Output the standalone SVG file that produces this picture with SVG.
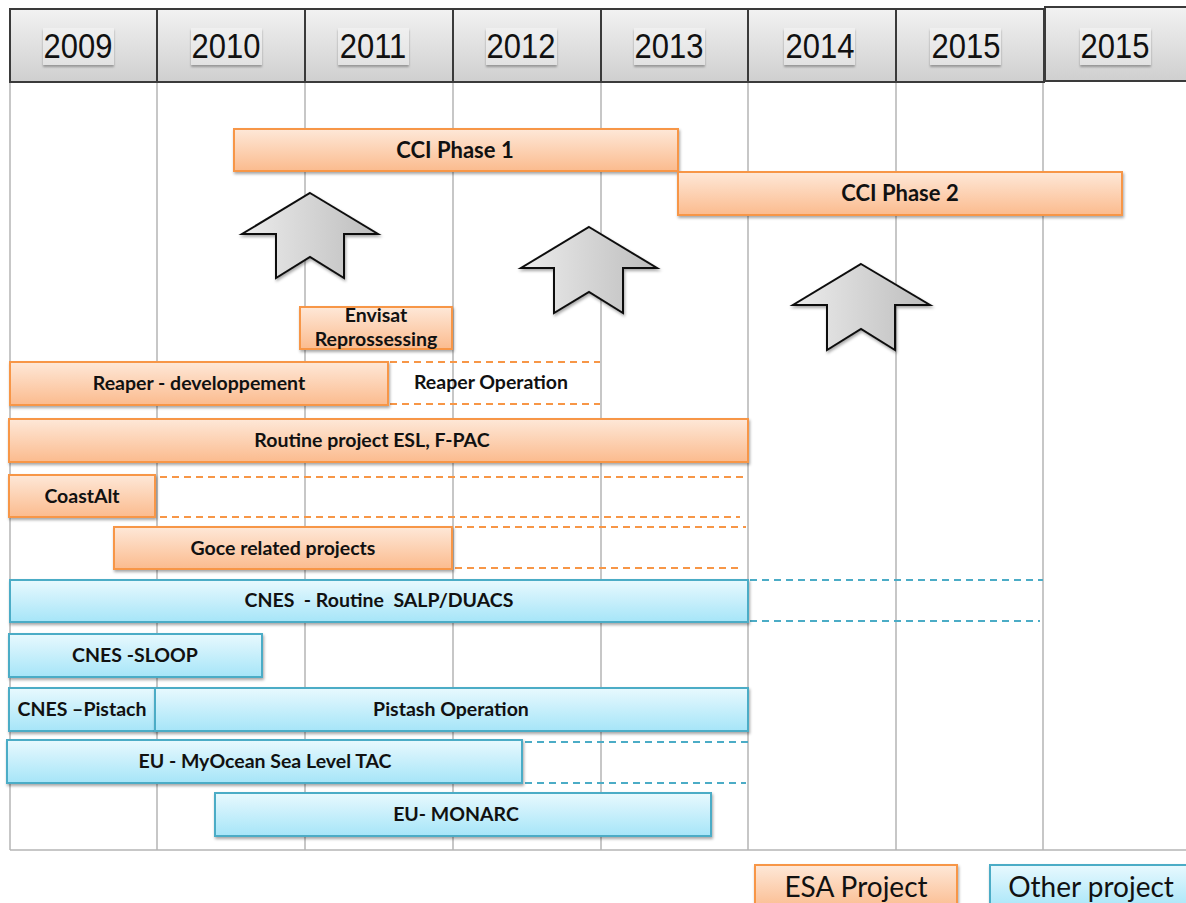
<svg xmlns="http://www.w3.org/2000/svg" width="1186" height="903" viewBox="0 0 1186 903">
<defs>
<linearGradient id="gHead" x1="0" y1="0" x2="0" y2="1"><stop offset="0" stop-color="#f2f2f2"/><stop offset="1" stop-color="#cfcfcf"/></linearGradient>
<linearGradient id="gYear" x1="0" y1="0" x2="0" y2="1"><stop offset="0" stop-color="#f0f0f0"/><stop offset="1" stop-color="#e2e2e2"/></linearGradient>
<linearGradient id="gOr" x1="0" y1="0" x2="0" y2="1"><stop offset="0" stop-color="#fee8d8"/><stop offset="1" stop-color="#fbbb8e"/></linearGradient>
<linearGradient id="gBl" x1="0" y1="0" x2="0" y2="1"><stop offset="0" stop-color="#e8f9fe"/><stop offset="1" stop-color="#a6e5f8"/></linearGradient>
<linearGradient id="gArr" x1="0" y1="0" x2="1" y2="0"><stop offset="0" stop-color="#ececec"/><stop offset="1" stop-color="#bdbdbd"/></linearGradient>
<filter id="sh" x="-5%" y="-20%" width="110%" height="150%"><feDropShadow dx="1" dy="2" stdDeviation="1.5" flood-color="#000" flood-opacity="0.35"/></filter>
<filter id="shs" x="-10%" y="-20%" width="120%" height="150%"><feDropShadow dx="0" dy="2" stdDeviation="1.2" flood-color="#000" flood-opacity="0.3"/></filter>
</defs>
<style>
.head{fill:url(#gHead);stroke:#3a3a3a;stroke-width:2}
.yr{fill:url(#gYear)}
.ytxt{font-family:"Liberation Sans",Arial,sans-serif;font-size:31px;fill:#111;text-anchor:middle}
.grid{stroke:#b4b4b4;stroke-width:1.5;fill:none}
.esa{fill:url(#gOr);stroke:#f79646;stroke-width:2;filter:url(#sh)}
.oth{fill:url(#gBl);stroke:#4bacc6;stroke-width:2;filter:url(#sh)}
.lbl{font-family:Lato,"Liberation Sans",sans-serif;font-weight:bold;font-size:19.5px;fill:#111;text-anchor:middle;white-space:pre}
.big{font-size:22px}
.dO{stroke:#f79646;stroke-width:2;stroke-dasharray:7 5;fill:none}
.dB{stroke:#4bacc6;stroke-width:2;stroke-dasharray:7 5;fill:none}
.arr{fill:url(#gArr);stroke:#111;stroke-width:2;filter:url(#sh)}
.leg{font-family:Lato,"Liberation Sans",sans-serif;font-size:28px;fill:#111;text-anchor:middle}
</style>
<rect width="1186" height="903" fill="#ffffff"/>
<g id="grid">
<line class="grid" x1="10" y1="82" x2="10" y2="850"/>
<line class="grid" x1="157" y1="82" x2="157" y2="850"/>
<line class="grid" x1="305" y1="82" x2="305" y2="850"/>
<line class="grid" x1="453" y1="82" x2="453" y2="850"/>
<line class="grid" x1="601" y1="82" x2="601" y2="850"/>
<line class="grid" x1="748" y1="82" x2="748" y2="850"/>
<line class="grid" x1="896" y1="82" x2="896" y2="850"/>
<line class="grid" x1="1043" y1="82" x2="1043" y2="850"/>
<line class="grid" x1="10" y1="850" x2="1186" y2="850"/>
</g>
<g id="header">
<g id="y2009"><rect class="head" x="10" y="9" width="147" height="73"/><rect class="yr" x="43" y="28" width="71" height="37" filter="url(#shs)"/><text class="ytxt" transform="translate(78 58) scale(1 1.12)">2009</text></g>
<g id="y2010"><rect class="head" x="157" y="9" width="148" height="73"/><rect class="yr" x="191" y="28" width="71" height="37" filter="url(#shs)"/><text class="ytxt" transform="translate(226 58) scale(1 1.12)">2010</text></g>
<g id="y2011"><rect class="head" x="305" y="9" width="148" height="73"/><rect class="yr" x="338" y="28" width="71" height="37" filter="url(#shs)"/><text class="ytxt" transform="translate(373 58) scale(1 1.12)">2011</text></g>
<g id="y2012"><rect class="head" x="453" y="9" width="148" height="73"/><rect class="yr" x="486" y="28" width="71" height="37" filter="url(#shs)"/><text class="ytxt" transform="translate(521 58) scale(1 1.12)">2012</text></g>
<g id="y2013"><rect class="head" x="601" y="9" width="147" height="73"/><rect class="yr" x="634" y="28" width="71" height="37" filter="url(#shs)"/><text class="ytxt" transform="translate(669 58) scale(1 1.12)">2013</text></g>
<g id="y2014"><rect class="head" x="748" y="9" width="148" height="73"/><rect class="yr" x="784" y="28" width="71" height="37" filter="url(#shs)"/><text class="ytxt" transform="translate(820 58) scale(1 1.12)">2014</text></g>
<g id="y2015a"><rect class="head" x="896" y="9" width="148" height="73"/><rect class="yr" x="930" y="28" width="71" height="37" filter="url(#shs)"/><text class="ytxt" transform="translate(966 58) scale(1 1.12)">2015</text></g>
<g id="y2015b"><rect class="head" x="1045" y="7" width="145" height="74"/><rect class="yr" x="1080" y="28" width="71" height="37" filter="url(#shs)"/><text class="ytxt" transform="translate(1115 58) scale(1 1.12)">2015</text></g>
</g>
<g id="connectors">
<line class="dO" x1="390" y1="362" x2="600" y2="362"/>
<line class="dO" x1="390" y1="404" x2="600" y2="404"/>
<line class="dO" x1="160" y1="477" x2="746" y2="477"/>
<line class="dO" x1="160" y1="517" x2="740" y2="517"/>
<line class="dO" x1="455" y1="527" x2="746" y2="527"/>
<line class="dO" x1="455" y1="568" x2="740" y2="568"/>
<line class="dB" x1="750" y1="580" x2="1043" y2="580"/>
<line class="dB" x1="750" y1="621" x2="1040" y2="621"/>
<line class="dB" x1="525" y1="742" x2="748" y2="742"/>
<line class="dB" x1="525" y1="783" x2="746" y2="783"/>
</g>
<g id="arrow1"><polygon class="arr" points="310,193 378,234 344,234 344,278 310,257 276,278 276,234 242,234"/></g>
<g id="arrow2"><polygon class="arr" points="589,227 657,268 623,268 623,313 589,292 554,313 554,268 521,268"/></g>
<g id="arrow3"><polygon class="arr" points="861,264 930,305 895,305 895,350 861,329 827,350 827,305 793,305"/></g>
<g id="cci1"><rect class="esa" x="234" y="129" width="444" height="42"/><text class="lbl big" x="455" y="158">CCI Phase 1</text></g>
<g id="cci2"><rect class="esa" x="678" y="172" width="444" height="43"/><text class="lbl big" x="900" y="201">CCI Phase 2</text></g>
<g id="envisat"><rect class="esa" x="300" y="307" width="152" height="42"/><text class="lbl" x="376" y="322">Envisat</text><text class="lbl" x="376" y="346">Reprossessing</text></g>
<g id="reaperdev"><rect class="esa" x="10" y="362" width="378" height="43"/><text class="lbl" x="199" y="390">Reaper - developpement</text></g>
<g id="reaperop"><text class="lbl" x="491" y="389">Reaper Operation</text></g>
<g id="routine"><rect class="esa" x="9" y="419" width="739" height="43"/><text class="lbl" x="372" y="447">Routine project ESL, F-PAC</text></g>
<g id="coastalt"><rect class="esa" x="9" y="475" width="146" height="42"/><text class="lbl" x="82" y="503">CoastAlt</text></g>
<g id="goce"><rect class="esa" x="114" y="527" width="338" height="42"/><text class="lbl" x="283" y="555">Goce related projects</text></g>
<g id="salp"><rect class="oth" x="10" y="580" width="738" height="42"/><text class="lbl" x="379" y="607" xml:space="preserve">CNES  - Routine  SALP/DUACS</text></g>
<g id="sloop"><rect class="oth" x="9" y="634" width="253" height="43"/><text class="lbl" x="135" y="662">CNES -SLOOP</text></g>
<g id="pistach"><rect class="oth" x="9" y="688" width="146" height="43"/><text class="lbl" x="82" y="716">CNES –Pistach</text></g>
<g id="pistashop"><rect class="oth" x="155" y="688" width="593" height="43"/><text class="lbl" x="451" y="716">Pistash Operation</text></g>
<g id="myocean"><rect class="oth" x="7" y="740" width="515" height="43"/><text class="lbl" x="265" y="768">EU - MyOcean Sea Level TAC</text></g>
<g id="monarc"><rect class="oth" x="215" y="793" width="496" height="43"/><text class="lbl" x="456" y="821">EU- MONARC</text></g>
<g id="legend-esa"><rect class="esa" x="755" y="865" width="202" height="45"/><text class="leg" x="856" y="897">ESA Project</text></g>
<g id="legend-other"><rect class="oth" x="990" y="865" width="205" height="45"/><text class="leg" x="1091" y="897">Other project</text></g>
</svg>
